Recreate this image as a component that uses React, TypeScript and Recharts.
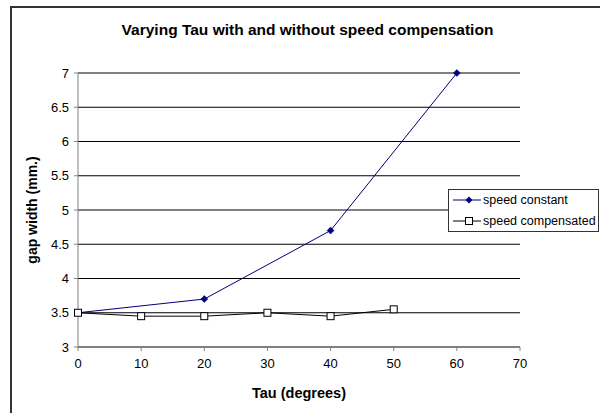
import React from "react";
import { LineChart, Line, XAxis, YAxis, CartesianGrid } from "recharts";

// Tau angles (degrees) and measured gap widths (mm)
const tauConstant = [0, 20, 40, 60];
const gapConstant = [3.5, 3.7, 4.7, 7.0];
const tauCompensated = [0, 10, 20, 30, 40, 50];
const gapCompensated = [3.5, 3.45, 3.45, 3.5, 3.45, 3.55];

const xTicks = [0, 10, 20, 30, 40, 50, 60, 70];
const yTicks = [3, 3.5, 4, 4.5, 5, 5.5, 6, 6.5, 7];

const seriesNames = ["speed constant", "speed compensated"];
const NAVY = "#000080";
const FONT = "'Liberation Sans', Arial, sans-serif";

const constantData = tauConstant.map((x, i) => ({ x, y: gapConstant[i] }));
const compensatedData = tauCompensated.map((x, i) => ({ x, y: gapCompensated[i] }));

const Diamond = (props: any) => {
  const { cx, cy } = props;
  if (cx == null || cy == null) return null;
  const r = 3.5;
  return (
    <path
      key={`d-${cx}-${cy}`}
      d={`M${cx},${cy - r}L${cx + r},${cy}L${cx},${cy + r}L${cx - r},${cy}Z`}
      fill={NAVY}
      stroke={NAVY}
      strokeWidth={0.5}
    />
  );
};

const Square = (props: any) => {
  const { cx, cy } = props;
  if (cx == null || cy == null) return null;
  const s = 3.5;
  return (
    <rect
      key={`s-${cx}-${cy}`}
      x={cx - s}
      y={cy - s}
      width={s * 2}
      height={s * 2}
      fill="#ffffff"
      stroke="#000000"
      strokeWidth={1}
    />
  );
};

const LegendBox = () => (
  <div
    style={{
      position: "absolute",
      left: 448,
      top: 189,
      width: 151,
      height: 43,
      border: "1px solid #333",
      background: "#fff",
      fontFamily: FONT,
      fontSize: 12.5,
      color: "#000",
      boxSizing: "border-box",
    }}
  >
    {seriesNames.map((name, i) => (
      <div
        key={name}
        style={{
          position: "absolute",
          left: 0,
          top: i === 0 ? 2 : 23,
          height: 16,
          display: "flex",
          alignItems: "center",
          whiteSpace: "nowrap",
        }}
      >
        <svg width={34} height={10} style={{ flex: "none" }}>
          <line x1={4} y1={5} x2={32} y2={5} stroke={i === 0 ? NAVY : "#000"} strokeWidth={1} />
          {i === 0 ? (
            <path d="M20,1.5L23.5,5L20,8.5L16.5,5Z" fill={NAVY} />
          ) : (
            <rect x={16.5} y={1.5} width={7} height={7} fill="#fff" stroke="#000" />
          )}
        </svg>
        <span>{name}</span>
      </div>
    ))}
  </div>
);

export default function App() {
  return (
    <div
      style={{
        position: "absolute",
        left: 0,
        top: 0,
        width: 600,
        height: 413,
        overflow: "hidden",
        background: "#fff",
        fontFamily: FONT,
      }}
    >
      <div
        style={{
          position: "absolute",
          left: 10,
          top: 6,
          width: 700,
          height: 500,
          border: "2px solid #333",
        }}
      />
      <div
        style={{
          position: "absolute",
          left: 0,
          top: 21,
          width: 615,
          textAlign: "center",
          fontSize: 15.5,
          fontWeight: "bold",
          color: "#000",
        }}
      >
        Varying Tau with and without speed compensation
      </div>
      <div style={{ position: "absolute", left: 0, top: 0 }}>
        <LineChart width={600} height={413} margin={{ top: 73, right: 80, bottom: 36, left: 20 }}>
          <CartesianGrid horizontal vertical={false} stroke="#000" strokeWidth={1} />
          <XAxis
            type="number"
            dataKey="x"
            domain={[0, 70]}
            ticks={xTicks}
            interval={0}
            height={30}
            axisLine={{ stroke: "#808080" }}
            tickLine={{ stroke: "#808080" }}
            tickSize={4}
            tickMargin={8}
            tick={{ fill: "#000", fontSize: 13, fontFamily: FONT }}
            label={{
              value: "Tau (degrees)",
              position: "bottom",
              offset: 11,
              style: { fontSize: 14.5, fontWeight: "bold", fill: "#000", fontFamily: FONT },
            }}
          />
          <YAxis
            type="number"
            dataKey="y"
            domain={[3, 7]}
            ticks={yTicks}
            interval={0}
            width={58}
            axisLine={{ stroke: "#808080" }}
            tickLine={{ stroke: "#808080" }}
            tickSize={4}
            tickMargin={5}
            tick={{ fill: "#000", fontSize: 13, fontFamily: FONT }}
            label={{
              value: "gap width (mm.)",
              angle: -90,
              position: "insideLeft",
              offset: 12,
              style: { textAnchor: "middle", fontSize: 14, fontWeight: "bold", fill: "#000", fontFamily: FONT },
            }}
          />
          <Line
            name={seriesNames[0]}
            data={constantData}
            dataKey="y"
            stroke={NAVY}
            strokeWidth={1}
            dot={<Diamond />}
            activeDot={false}
            isAnimationActive={false}
          />
          <Line
            name={seriesNames[1]}
            data={compensatedData}
            dataKey="y"
            stroke="#000"
            strokeWidth={1}
            dot={<Square />}
            activeDot={false}
            isAnimationActive={false}
          />
        </LineChart>
      </div>
      <LegendBox />
    </div>
  );
}
